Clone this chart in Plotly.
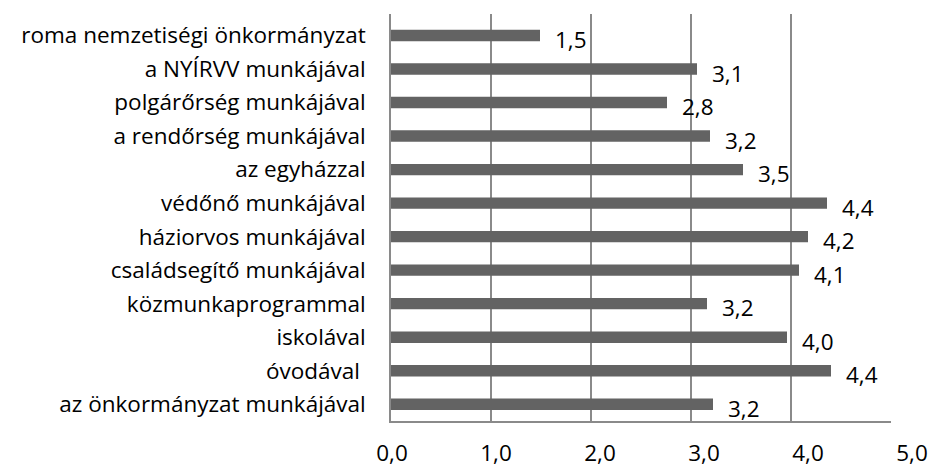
import plotly.graph_objects as go

# data (top to bottom as in the chart)
categories = [
    "roma nemzetiségi önkormányzat",
    "a NYÍRVV munkájával",
    "polgárőrség munkájával",
    "a rendőrség munkájával",
    "az egyházzal",
    "védőnő munkájával",
    "háziorvos munkájával",
    "családsegítő munkájával",
    "közmunkaprogrammal",
    "iskolával",
    "óvodával ",
    "az önkormányzat munkájával",
]
values = [1.49, 3.06, 2.76, 3.19, 3.52, 4.36, 4.17, 4.08, 3.16, 3.96, 4.40, 3.22]
tick_vals = [0, 1, 2, 3, 4, 5]
tick_text = ["0,0", "1,0", "2,0", "3,0", "4,0", "5,0"]

FONT = "Open Sans"
FS = 22.5
W, H = 946, 468
ML, MR, MT, MB = 391, 20, 14, 47
plot_w = W - ML - MR

fig = go.Figure()
fig.add_trace(go.Bar(
    y=categories, x=values, orientation="h",
    marker=dict(color="#636363", line=dict(width=0)),
    width=0.34, hoverinfo="x+y",
))
# empty trace so the label axis is drawn
fig.add_trace(go.Scatter(x=[], y=[], xaxis="x2", yaxis="y", showlegend=False))

# value labels beside the bar ends
for c, v in zip(categories, values):
    fig.add_annotation(
        x=v, y=c, xref="x", yref="y",
        text=f"{v:.1f}".replace(".", ","),
        showarrow=False, xanchor="left", yanchor="middle",
        xshift=13, yshift=-4,
        font=dict(family=FONT, size=FS, color="#000000"),
    )

fig.update_layout(
    width=W, height=H,
    margin=dict(l=ML, r=MR, t=MT, b=MB),
    paper_bgcolor="white", plot_bgcolor="rgba(0,0,0,0)",
    showlegend=False, bargap=0.66,
    font=dict(family=FONT, size=FS, color="#000000"),
    xaxis=dict(
        range=[0, 5], domain=[0, 500 / plot_w],
        tickvals=tick_vals, showticklabels=False,
        showgrid=True, gridcolor="#8a8a8a", gridwidth=1.5,
        zeroline=False, showline=True, linecolor="#8a8a8a", linewidth=1.5,
        automargin=False,
    ),
    xaxis2=dict(
        range=[0, 5], domain=[1 / plot_w, 521 / plot_w], anchor="y",
        tickvals=tick_vals, ticktext=tick_text,
        showgrid=False, zeroline=False, showline=False,
        ticklabelstandoff=16, tickfont=dict(family=FONT, size=FS),
        automargin=False,
    ),
    yaxis=dict(
        categoryorder="array", categoryarray=categories,
        autorange="reversed",
        showgrid=False, zeroline=False,
        showline=True, linecolor="#8a8a8a", linewidth=1.5,
        ticks="", ticklabelstandoff=19,
        tickfont=dict(family=FONT, size=FS),
        automargin=False,
    ),
)

# drop the default page margin so the figure sits at the window's corner
fig.write_html(
    "out.html",
    config={"displayModeBar": False},
    post_script="document.body.style.margin='0';",
)
